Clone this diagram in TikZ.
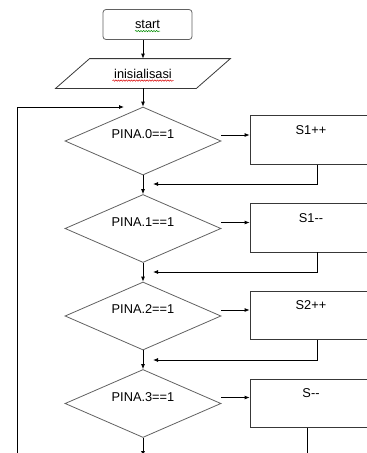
\documentclass[tikz,border=0pt]{standalone}
\usepackage{fontspec}
\setmainfont{Liberation Sans}
\usetikzlibrary{shapes.geometric,arrows.meta,decorations.pathmorphing}

\colorlet{linecol}{black!78}
\colorlet{deccol}{black!62}

\begin{document}
\begin{tikzpicture}[x=1pt, y=-1pt, line width=0.8pt, font=\fontsize{12.8}{14}\selectfont,
	    every node/.style={draw=linecol},
	    startbox/.style={rounded corners=3pt, draw=deccol, minimum width=89pt, minimum height=30pt, inner sep=0pt},
	    inputbox/.style={draw=none, minimum width=140pt, minimum height=29pt, inner sep=0pt},
	    decision/.style={diamond, draw=deccol, aspect=2.3, minimum width=156pt, minimum height=68pt, inner sep=0pt,
	        text height=6pt, text depth=11pt},
	    process/.style={rectangle, minimum width=122pt, inner sep=0pt, text height=18.5pt, text depth=30pt},
	    arr/.style={draw=black, -{Latex[length=5pt,width=4pt]}},
	    squiggle/.style={decorate, decoration={snake, amplitude=0.7pt, segment length=2.6pt}, line width=0.5pt}]

	\useasboundingbox (0,0) rectangle (367,453);
	\clip (0,0) rectangle (367,453);

	\node[startbox] (start) at (147.5,24.5) {start};
	\node[inputbox] (ini) at (143,73.5) {inisialisasi};
	% slanted sides of the input box
	\draw[linecol] ([xshift=-17pt]ini.south west) -- ([xshift=17pt]ini.north west)
		-- ([xshift=17pt]ini.north east) -- ([xshift=-17pt]ini.south east) -- cycle;
	\draw[squiggle, green!55!black] ([xshift=-12.5pt,yshift=-2.5pt]start.base) -- ([xshift=12.5pt,yshift=-2.5pt]start.base);
	\draw[squiggle, red!85!black] ([xshift=-30.5pt,yshift=-2.5pt]ini.base) -- ([xshift=30.5pt,yshift=-2.5pt]ini.base);

	% decisions and their actions
	\foreach \i/\op in {0/S1++, 1/{S1-{}-}, 2/S2++, 3/{S-{}-}} {
		\node[decision] (d\i) at (143,141+87.5*\i) {PINA.\i==1};
		\node[process] (b\i) at (311,140+87.8*\i) {\op};
		\draw[arr] ([yshift=6pt]d\i.east) -- ([yshift=6pt]d\i.east -| b\i.west);
	}

	\coordinate (r0) at (153,184);
	\coordinate (r1) at (153,272);
	\coordinate (r2) at (153,360);
	\coordinate (e3) at (307,470);
	\coordinate (next) at (143,456);
	\coordinate (loopin) at (17,470);
	\coordinate (loopend) at (124,107);

	\draw[arr] (start.south -| ini.center) -- (ini.north);
	\draw[arr] (ini.south) -- (d0.north);
	\foreach \i/\j in {0/1, 1/2, 2/3} {
		\draw[arr] (d\i.south) -- (d\j.north);
		\draw[arr] ([xshift=6pt]b\i.south) |- (r\i);
	}
	\draw[arr] (d3.south) -- (next);
	\draw[black] ([xshift=-4pt]b3.south) -- (e3);
	\draw[arr] (loopin) |- (loopend);
\end{tikzpicture}
\end{document}
